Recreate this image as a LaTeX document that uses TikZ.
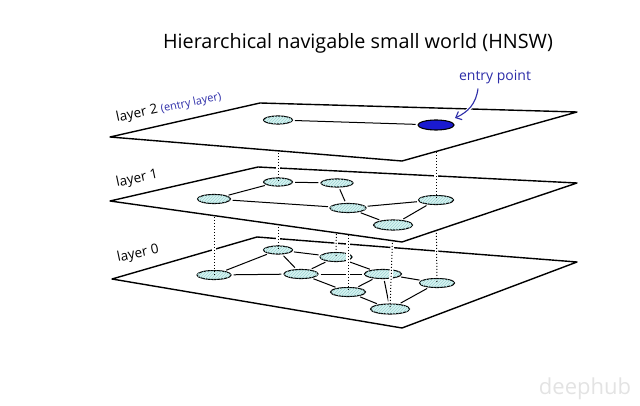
\documentclass[tikz,border=0pt]{standalone}
\usepackage{fontspec}
\setmainfont{Open Sans}
\usetikzlibrary{shapes.geometric,patterns,arrows.meta}
\definecolor{nodefill}{HTML}{D8F3F2}
\definecolor{hatch}{HTML}{9CD5D3}
\definecolor{labblue}{HTML}{2C2CA8}
\definecolor{entryblue}{HTML}{1A1AD0}
\begin{document}
\begin{tikzpicture}[x=1pt,y=-1pt,
  plane/.style={draw=black, fill=white, line width=1.4pt, line join=round},
  nd/.style={ellipse, draw=black, line width=1.1pt, fill=nodefill, inner sep=0pt,
     postaction={pattern=north east lines, pattern color=hatch}},
  edge/.style={draw=black, line width=1pt, shorten <=2pt, shorten >=2pt},
  halo/.style={draw=white, line width=3.5pt},
  vdot/.style={draw=black, line width=1pt, dotted},
  lab/.style={font=\fontsize{13.5}{15}\selectfont, inner sep=0pt}
]
\useasboundingbox (0,0) rectangle (640,406);

% ---------- layer 0 ----------
\coordinate (p0a) at (112,279);
\coordinate (p0b) at (257,237);
\coordinate (p0c) at (577,262);
\coordinate (p0d) at (402,328);
\path[plane] (p0a) -- (p0b) -- (p0c) -- (p0d) -- cycle;

\node[nd, minimum width=29pt, minimum height=8pt] (a) at (278,250) {};
\node[nd, minimum width=32pt, minimum height=9pt] (b) at (336,257) {};
\node[nd, minimum width=34pt, minimum height=9pt] (c) at (214,275) {};
\node[nd, minimum width=34pt, minimum height=9pt] (d) at (301,274) {};
\node[nd, minimum width=37pt, minimum height=9pt] (e) at (383,274) {};
\node[nd, minimum width=35pt, minimum height=9pt] (f) at (348,292) {};
\node[nd, minimum width=35pt, minimum height=9pt] (g) at (437,283) {};
\node[nd, minimum width=39pt, minimum height=10pt] (h) at (390,309) {};
\foreach \u/\v in {c/a, c/d, a/d, a/b, d/b, d/e, d/f, b/e, e/f, e/h, f/h, e/g, g/h}
  \draw[edge] (\u) -- (\v);

% ---------- layer 1 node positions ----------
\coordinate (A0) at (278,182);
\coordinate (B0) at (337,183);
\coordinate (C0) at (214,199);
\coordinate (D0) at (348,208);
\coordinate (E0) at (436,200);
\coordinate (F0) at (393,225);

% dotted links layer 1 -> layer 0
\foreach \u/\v in {A0/a, B0/b, C0/c, D0/f, E0/g, F0/h} {
  \draw[halo] (\u) -- (\v.north);
  \draw[vdot] (\u) -- (\v.center);
}

% ---------- layer 1 ----------
\coordinate (p1a) at (110,201);
\coordinate (p1b) at (258,167);
\coordinate (p1c) at (577,183);
\coordinate (p1d) at (402,242);
\path[plane] (p1a) -- (p1b) -- (p1c) -- (p1d) -- cycle;

\node[nd, minimum width=29pt, minimum height=8pt] (A) at (A0) {};
\node[nd, minimum width=32pt, minimum height=8pt] (B) at (B0) {};
\node[nd, minimum width=33pt, minimum height=9pt] (C) at (C0) {};
\node[nd, minimum width=36pt, minimum height=9pt] (D) at (D0) {};
\node[nd, minimum width=35pt, minimum height=9pt] (E) at (E0) {};
\node[nd, minimum width=39pt, minimum height=10pt] (F) at (F0) {};
\foreach \u/\v in {C/A, A/B, B/D, C/D, D/E, D/F, F/E}
  \draw[edge] (\u) -- (\v);

% ---------- layer 2 node positions ----------
\coordinate (L0) at (278,120);
\coordinate (N0) at (436,125);
\foreach \u/\v in {L0/A, N0/E} {
  \draw[halo] (\u) -- (\v.north);
  \draw[vdot] (\u) -- (\v.center);
}

% ---------- layer 2 ----------
\coordinate (p2a) at (110,137);
\coordinate (p2b) at (260,103);
\coordinate (p2c) at (577,112);
\coordinate (p2d) at (402,161);
\path[plane] (p2a) -- (p2b) -- (p2c) -- (p2d) -- cycle;

\node[nd, minimum width=29pt, minimum height=8pt] (L) at (L0) {};
\node[ellipse, draw=black, line width=1.1pt, fill=entryblue, inner sep=0pt,
      minimum width=36pt, minimum height=10pt] (N) at (N0) {};
\draw[edge] (L) -- (N);

% ---------- labels ----------
\node[lab, anchor=base west, rotate=12] (l2) at (117,122)
  {layer 2 \textcolor{labblue}{\fontsize{11}{12}\selectfont (entry layer)}};
\node[lab, anchor=base west, rotate=12] (l1) at (117,187) {layer 1};
\node[lab, anchor=base west, rotate=12] (l0) at (118,262) {layer 0};

\node[inner sep=0pt, font=\fontsize{14}{16}\selectfont, text=labblue, anchor=base] (ep) at (495,81) {entry point};
\coordinate (tip) at (455,118);
\draw[white, line width=3.5pt] (478,89) .. controls (476,104) and (468,112) .. (457,117.5);
\draw[labblue, line width=1.1pt, -{Straight Barb[length=5pt,width=9pt]}]
  (ep.south) ++(-17,4) .. controls (476,104) and (468,112) .. (tip);

\node[inner sep=0pt, font=\fontsize{19.8}{22}\selectfont, anchor=base] (title) at (358,49)
  {Hierarchical navigable small world (HNSW)};

\node[inner sep=0pt, font=\fontsize{22}{24}\selectfont, text=gray!22, anchor=base] (wm) at (585,394) {deephub};
\end{tikzpicture}
\end{document}
